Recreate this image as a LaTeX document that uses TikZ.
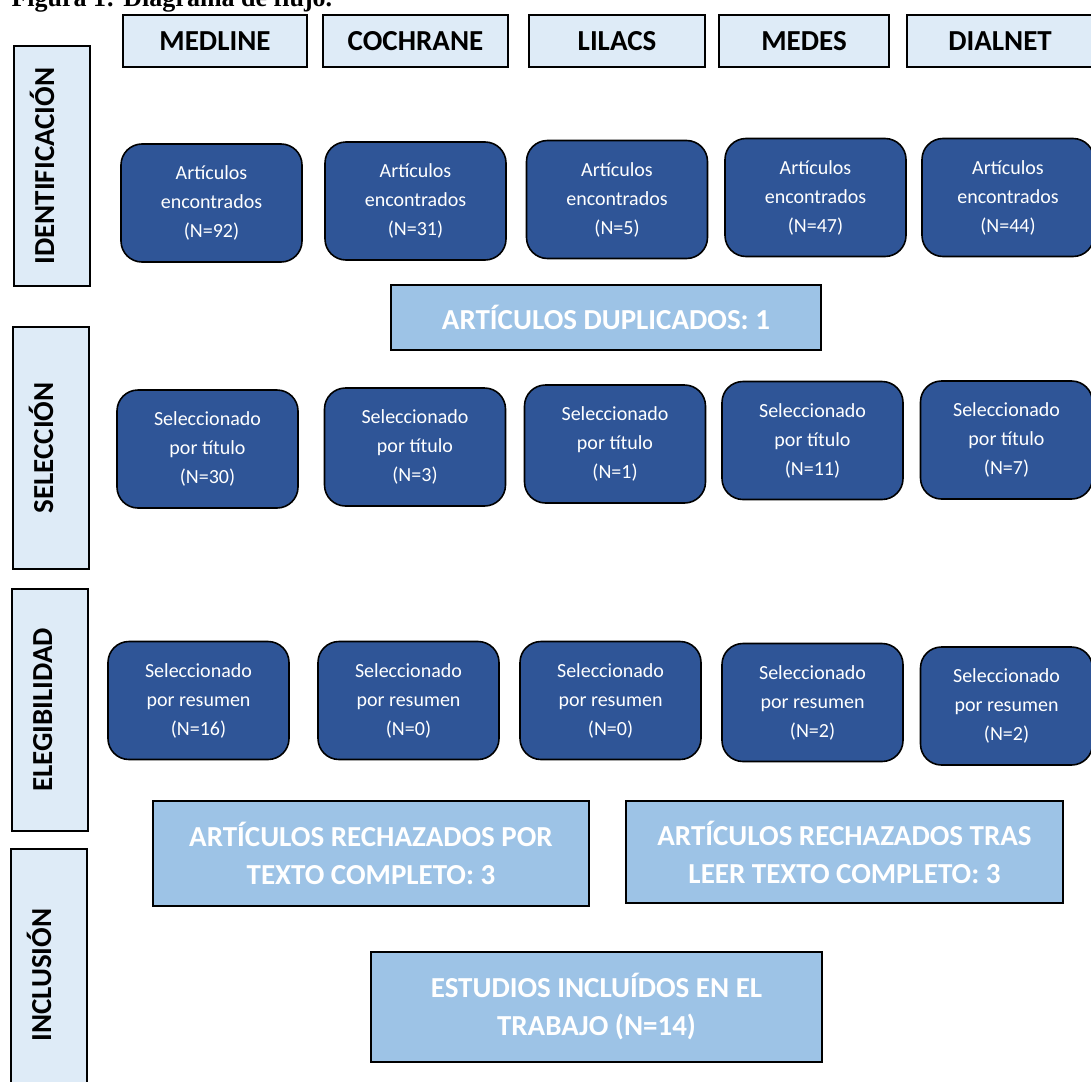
\documentclass[tikz,border=0pt]{standalone}
\usepackage{fontspec}
\setmainfont{Carlito}
\newfontfamily\titlefont{Liberation Serif}
\usetikzlibrary{positioning}
\definecolor{darkblue}{RGB}{47,85,151}
\definecolor{lightblue}{RGB}{157,195,230}
\definecolor{paleblue}{RGB}{222,235,247}
\newcommand{\artenc}[1]{Artículos\\encontrados\\(N=#1)}
\newcommand{\seltit}[1]{Seleccionado\\por título\\(N=#1)}
\newcommand{\selres}[1]{Seleccionado\\por resumen\\(N=#1)}

\begin{document}
\begin{tikzpicture}[x=1pt,y=-1pt,base/.style={draw,line width=1.4pt,fill=paleblue,minimum height=52pt,font=\bfseries\fontsize{29}{34}\selectfont},fase/.style={draw,line width=1.4pt,fill=paleblue,minimum height=76pt,rotate=90,text height=24pt,text depth=20pt,font=\bfseries\fontsize{29}{34}\selectfont},caja/.style={draw,line width=1.6pt,rounded corners=21pt,fill=darkblue,text=white,align=center,minimum width=181pt,minimum height=118pt,font=\fontsize{20}{29}\selectfont},resul/.style={draw,line width=1.6pt,fill=lightblue,text=white,align=center,font=\bfseries\fontsize{29}{38}\selectfont}]
\useasboundingbox (0,0) rectangle (1091,1081);
\clip (0,0) rectangle (1091,1081);
\node[anchor=base west,font=\titlefont\bfseries\fontsize{26}{30}\selectfont] (tit) at (8,7) {Figura 1: Diagrama de flujo.};
% bases de datos
\node[base,minimum width=184pt] (medline) at (215,41) {MEDLINE};
\node[base,minimum width=185pt] (cochrane) at (415.5,41) {COCHRANE};
\node[base,minimum width=176pt] (lilacs) at (617,41) {LILACS};
\node[base,minimum width=170pt] (medes) at (804,41) {MEDES};
\node[base,minimum width=186pt] (dialnet) at (1000,41) {DIALNET};
% fases
\node[fase,minimum width=240pt] (ident) at (52,166) {IDENTIFICACIÓN};
\node[fase,minimum width=242pt] (selec) at (51,448) {SELECCIÓN};
\node[fase,minimum width=242pt] (elegi) at (50,710) {ELEGIBILIDAD};
\node[fase,minimum width=252pt] (inclu) at (49,975) {INCLUSIÓN};
% identificacion
\node[caja] (enc1) at (211.5,203) {\artenc{92}};
\node[caja] (enc2) at (415.5,201) {\artenc{31}};
\node[caja] (enc3) at (617,199.5) {\artenc{5}};
\node[caja] (enc4) at (815.5,197.5) {\artenc{47}};
\node[caja,minimum width=172pt] (enc5) at (1008,197.5) {\artenc{44}};
\node[resul,minimum width=430pt,minimum height=65pt] (dup) at (606,317.5) {ARTÍCULOS DUPLICADOS: 1};
% seleccion
\node[caja] (tit1) at (207.5,449) {\seltit{30}};
\node[caja] (tit2) at (415,447) {\seltit{3}};
\node[caja] (tit3) at (615,444) {\seltit{1}};
\node[caja] (tit4) at (812.5,440.5) {\seltit{11}};
\node[caja,minimum width=172pt] (tit5) at (1006.5,440) {\seltit{7}};
% elegibilidad
\node[caja] (res1) at (198.5,700.5) {\selres{16}};
\node[caja] (res2) at (408.5,700.5) {\selres{0}};
\node[caja] (res3) at (610.5,700.5) {\selres{0}};
\node[caja] (res4) at (812.5,702.5) {\selres{2}};
\node[caja,minimum width=172pt] (res5) at (1006.5,706) {\selres{2}};
\node[resul,minimum width=436pt,minimum height=105pt] (rechpor) at (371,853.5) {ARTÍCULOS RECHAZADOS POR\\TEXTO COMPLETO: 3};
\node[resul,minimum width=437pt,minimum height=102pt] (rechtras) at (844.5,852) {ARTÍCULOS RECHAZADOS TRAS\\LEER TEXTO COMPLETO: 3};
% inclusion
\node[resul,minimum width=451pt,minimum height=110pt] (incl) at (596.5,1007) {ESTUDIOS INCLUÍDOS EN EL\\TRABAJO (N=14)};
\end{tikzpicture}
\end{document}
